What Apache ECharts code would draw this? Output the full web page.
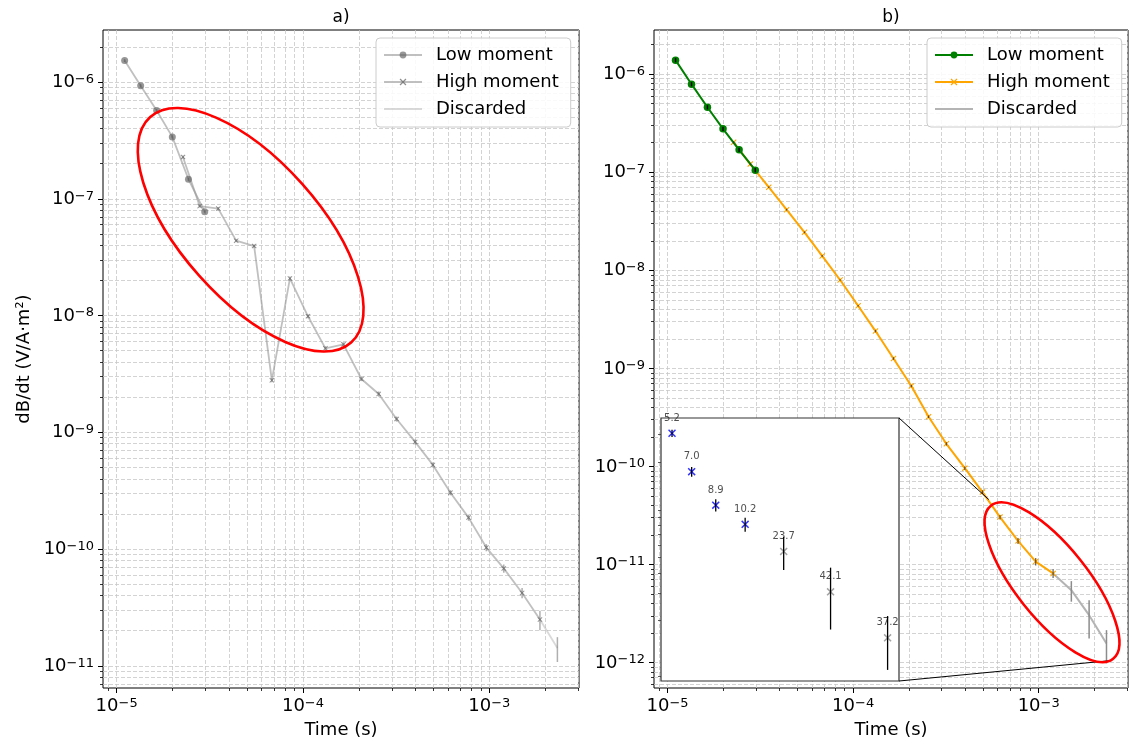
<!DOCTYPE html>
<html>
<head>
<meta charset="utf-8">
<title>dB/dt soundings a) and b)</title>
<script src="https://cdn.jsdelivr.net/npm/echarts@6/dist/echarts.min.js"></script>
<style>
  html, body { margin: 0; padding: 0; background: #fff; }
  #main { width: 1130px; height: 742px; }
</style>
</head>
<body>
<div id="main"></div>
<script>
// gate centre times (s), same gates in both soundings
var timesLow = [1.104e-5, 1.346e-5, 1.64e-5, 1.99e-5, 2.43e-5, 2.97e-5];
var timesHigh = [2.27e-5, 2.79e-5, 3.51e-5, 4.38e-5, 5.47e-5, 6.81e-5, 8.51e-5, 1.064e-4,
                 1.32e-4, 1.65e-4, 2.06e-4, 2.55e-4, 3.18e-4, 4.0e-4, 4.98e-4, 6.19e-4,
                 7.74e-4, 9.64e-4, 1.196e-3, 1.50e-3, 1.87e-3, 2.32e-3];

// a) sounding, dB/dt (V/A·m²)
var lowA = [1.53e-6, 9.3e-7, 5.7e-7, 3.39e-7, 1.47e-7, 7.74e-8];
var highA = [2.28e-7, 8.67e-8, 8.24e-8, 4.38e-8, 3.94e-8, 2.79e-9, 2.08e-8, 9.86e-9,
             5.24e-9, 5.67e-9, 2.86e-9, 2.13e-9, 1.30e-9, 8.28e-10, 5.26e-10, 3.04e-10,
             1.86e-10, 1.03e-10, 6.83e-11, 4.21e-11, 2.49e-11, 1.42e-11];
// relative std of each gate
var errLowA = [0.03, 0.03, 0.03, 0.03, 0.03, 0.03];
var errHighA = [0.03, 0.03, 0.03, 0.03, 0.03, 0.04, 0.04, 0.04, 0.04, 0.04, 0.04,
                0.05, 0.05, 0.05, 0.05, 0.05, 0.06, 0.07, 0.08, 0.10, 0.19, 0.24];

// b) sounding
var lowB = [1.39e-6, 7.9e-7, 4.6e-7, 2.77e-7, 1.69e-7, 1.05e-7];
var highB = [2.02e-7, 1.21e-7, 7.03e-8, 4.15e-8, 2.44e-8, 1.40e-8, 7.96e-9, 4.35e-9,
             2.40e-9, 1.26e-9, 6.61e-10, 3.21e-10, 1.70e-10, 9.6e-11, 5.47e-11, 3.04e-11,
             1.74e-11, 1.07e-11, 8.1e-12, 5.47e-12, 3.04e-12, 1.56e-12];
var errLowB = [0.05, 0.05, 0.05, 0.05, 0.05, 0.05];
var errHighB = [0.02, 0.02, 0.02, 0.02, 0.02, 0.02, 0.02, 0.02, 0.03, 0.03, 0.03,
                0.03, 0.04, 0.04, 0.045, 0.052, 0.070, 0.089, 0.102, 0.237, 0.421, 0.372];

var keptA = 21;     // high moment gates kept in a), the rest is discarded
var keptB = 19;     // same for b)
var insetFrom = 15; // first gate shown in the inset of b)

// axis ticks
var xMajor = [1e-5, 1e-4, 1e-3];
var yMajorA = [1e-11, 1e-10, 1e-9, 1e-8, 1e-7, 1e-6];
var yMajorB = [1e-12, 1e-11, 1e-10, 1e-9, 1e-8, 1e-7, 1e-6];

// axis limits
var xRange = [8.45e-6, 3.03e-3];
var yRangeA = [6.46e-12, 2.79e-6];
var yRangeB = [5.5e-13, 2.82e-6];
var insetX = [5.32e-4, 2.41e-3];
var insetY = [8.34e-13, 3.79e-11];
var zoomBox = [[5.38e-4, 4.6e-11], [2.48e-3, 1.05e-12]];

var FONT = 'DejaVu Sans';
var GRID_LINE = { show: true, lineStyle: { color: '#c8c8c8', width: 0.8, type: [4, 2] } };
var CROSS = 'path://M0,1.3L1.3,0L5,3.7L8.7,0L10,1.3L6.3,5L10,8.7L8.7,10L5,6.3L1.3,10L0,8.7L3.7,5Z';

function minorTicks(range) {
  var out = [];
  for (var k = -13; k <= -2; k++) {
    for (var m = 2; m <= 9; m++) {
      var v = m * Math.pow(10, k);
      if (v > range[0] && v < range[1]) out.push(v);
    }
  }
  return out;
}

function pairs(ts, vs) {
  return ts.map(function (t, i) { return [t, vs[i]]; });
}

function powLabel(v) {
  return '{b|10}{s|\u2212' + (-Math.round(Math.log10(v))) + '}';
}

var labelRich = {
  b: { fontSize: 18, lineHeight: 18, padding: [1, 0, 0, 0], color: '#000', fontFamily: FONT },
  s: { fontSize: 13, lineHeight: 13, verticalAlign: 'top', color: '#000', fontFamily: FONT }
};

function majorAxis(gi, pos, range, ticks, extra) {
  var ax = {
    type: 'log', gridIndex: gi, position: pos, min: range[0], max: range[1],
    axisLine: { show: false },
    axisTick: { show: true, length: 5, lineStyle: { color: '#000', width: 1 }, customValues: ticks },
    axisLabel: { show: true, margin: 9, formatter: powLabel, rich: labelRich, customValues: ticks },
    splitLine: GRID_LINE,
    minorTick: { show: false }, minorSplitLine: { show: false }
  };
  for (var k in extra) ax[k] = extra[k];
  return ax;
}

function minorAxis(gi, pos, range) {
  return {
    type: 'log', gridIndex: gi, position: pos, min: range[0], max: range[1],
    axisLine: { show: false },
    axisTick: { show: true, length: 3, lineStyle: { color: '#000', width: 0.8 }, customValues: minorTicks(range) },
    axisLabel: { show: false },
    splitLine: GRID_LINE
  };
}

var xName = { name: 'Time (s)', nameLocation: 'middle', nameGap: 33,
  nameTextStyle: { fontSize: 18, color: '#000', fontFamily: FONT } };

function lineSeries(name, xi, data, color, width, symbol, size, markColor, z) {
  return {
    name: name, type: 'line', xAxisIndex: xi, yAxisIndex: xi, data: data, z: z,
    symbol: symbol, symbolSize: size, showSymbol: symbol !== 'none',
    lineStyle: { color: color, width: width },
    itemStyle: { color: markColor },
    emphasis: { disabled: true }, animation: false
  };
}

function errorBars(xi, ts, vs, errs, color, width, z) {
  return {
    type: 'custom', xAxisIndex: xi, yAxisIndex: xi, z: z, silent: true,
    data: ts.map(function (t, i) { return [t, vs[i] * (1 - errs[i]), vs[i] * (1 + errs[i])]; }),
    encode: { x: 0, y: [1, 2] },
    renderItem: function (params, api) {
      var lo = api.coord([api.value(0), api.value(1)]);
      var hi = api.coord([api.value(0), api.value(2)]);
      return { type: 'line', shape: { x1: lo[0], y1: lo[1], x2: hi[0], y2: hi[1] },
               style: { stroke: color, lineWidth: width } };
    }
  };
}

function legendFor(left, names) {
  return {
    orient: 'vertical', left: left, top: 38, selectedMode: false,
    data: [names[0], names[1], { name: names[2], itemStyle: { opacity: 0 } }],
    itemWidth: 38, itemHeight: 8.5, itemGap: 9,
    padding: [8, 12, 9, 7],
    backgroundColor: 'rgba(255,255,255,0.85)', borderColor: '#cccccc', borderWidth: 1, borderRadius: 4,
    formatter: function (n) { return n.replace(/ \(.\)$/, ''); },
    textStyle: { fontSize: 18, lineHeight: 18, color: '#000', fontFamily: FONT, padding: [0, 0, 0, 9] }
  };
}

var insetKeepT = timesHigh.slice(insetFrom, keptB), insetKeepV = highB.slice(insetFrom, keptB);
var insetDropT = timesHigh.slice(keptB), insetDropV = highB.slice(keptB);

var chart = echarts.init(document.getElementById('main'), null, { renderer: 'canvas' });

var option = {
  animation: false,
  backgroundColor: '#ffffff',
  textStyle: { fontFamily: FONT },
  title: [
    { text: 'a)', left: 336, top: 4, textAlign: 'center', textStyle: { fontSize: 17, fontWeight: 'normal', color: '#000', fontFamily: FONT } },
    { text: 'b)', left: 886, top: 4, textAlign: 'center', textStyle: { fontSize: 17, fontWeight: 'normal', color: '#000', fontFamily: FONT } }
  ],
  grid: [
    { left: 103, top: 30, width: 476, height: 658, show: true, borderColor: '#000', borderWidth: 1, outerBoundsMode: 'none' },
    { left: 654, top: 30, width: 474, height: 658, show: true, borderColor: '#000', borderWidth: 1, outerBoundsMode: 'none' },
    { left: 661, top: 418, width: 238, height: 263, show: true, z: 10, backgroundColor: '#fff',
      borderColor: '#333', borderWidth: 1.2, outerBoundsMode: 'none' }
  ],
  xAxis: [
    majorAxis(0, 'bottom', xRange, xMajor, xName),
    minorAxis(0, 'bottom', xRange),
    majorAxis(1, 'bottom', xRange, xMajor, xName),
    minorAxis(1, 'bottom', xRange),
    { type: 'value', gridIndex: 2, min: insetX[0], max: insetX[1], z: 11,
      axisLine: { show: false }, axisTick: { show: false }, axisLabel: { show: false }, splitLine: { show: false } }
  ],
  yAxis: [
    majorAxis(0, 'left', yRangeA, yMajorA, { name: 'dB/dt (V/A\u00b7m\u00b2)', nameLocation: 'middle', nameGap: 70,
      nameTextStyle: { fontSize: 18, color: '#000', fontFamily: FONT } }),
    minorAxis(0, 'left', yRangeA),
    majorAxis(1, 'left', yRangeB, yMajorB, {}),
    minorAxis(1, 'left', yRangeB),
    { type: 'log', gridIndex: 2, position: 'left', min: insetY[0], max: insetY[1], z: 11,
      axisLine: { show: false },
      axisTick: { show: true, length: 3, lineStyle: { color: '#333', width: 0.8 }, customValues: [1e-11].concat(minorTicks(insetY)) },
      axisLabel: { show: false }, splitLine: { show: false } }
  ],
  legend: [
    legendFor(376, ['Low moment (a)', 'High moment (a)', 'Discarded (a)']),
    legendFor(927, ['Low moment (b)', 'High moment (b)', 'Discarded (b)'])
  ],
  series: [
    // a) everything greyed out
    lineSeries('Low moment (a)', 0, pairs(timesLow, lowA), 'rgba(150,150,150,0.6)', 1.8, 'circle', 7, 'rgba(95,95,95,0.65)', 3),
    lineSeries('High moment (a)', 0, pairs(timesHigh.slice(0, keptA), highA.slice(0, keptA)), 'rgba(150,150,150,0.6)', 1.8, CROSS, 5, 'rgba(95,95,95,0.7)', 3),
    lineSeries('Discarded (a)', 0, pairs(timesHigh.slice(keptA - 1), highA.slice(keptA - 1)), 'rgba(170,170,170,0.45)', 1.8, 'none', 0, 'rgba(170,170,170,0.45)', 2),
    errorBars(0, timesLow, lowA, errLowA, 'rgba(90,90,90,0.55)', 1.5, 4),
    errorBars(0, timesHigh, highA, errHighA, 'rgba(110,110,110,0.55)', 1.5, 4),

    // b)
    lineSeries('Low moment (b)', 2, pairs(timesLow, lowB), '#008000', 2, 'circle', 7.5, '#008000', 4),
    lineSeries('High moment (b)', 2, pairs(timesHigh.slice(0, keptB), highB.slice(0, keptB)), '#ffa500', 2, CROSS, 6, '#ffa500', 3),
    lineSeries('Discarded (b)', 2, pairs(timesHigh.slice(keptB - 1), highB.slice(keptB - 1)), '#b4b4b4', 2, 'none', 0, '#b4b4b4', 2),
    errorBars(2, timesLow, lowB, errLowB, '#000', 1.4, 5),
    errorBars(2, timesHigh.slice(0, keptB), highB.slice(0, keptB), errHighB.slice(0, keptB), 'rgba(40,40,40,0.75)', 1.2, 5),
    errorBars(2, timesHigh.slice(keptB), highB.slice(keptB), errHighB.slice(keptB), '#8c8c8c', 1.5, 5),

    // inset of b)
    { type: 'scatter', xAxisIndex: 4, yAxisIndex: 4, z: 12, symbol: CROSS, symbolSize: 8,
      data: pairs(insetKeepT, insetKeepV), itemStyle: { color: '#0000ff' },
      label: { show: true, position: 'top', distance: 6, fontSize: 10, color: '#222', fontFamily: FONT,
        formatter: function (p) { return (errHighB[insetFrom + p.dataIndex] * 100).toFixed(1); } } },
    { type: 'scatter', xAxisIndex: 4, yAxisIndex: 4, z: 12, symbol: CROSS, symbolSize: 8,
      data: pairs(insetDropT, insetDropV), itemStyle: { color: '#8c8c8c' },
      label: { show: true, position: 'top', distance: 6, fontSize: 10, color: '#222', fontFamily: FONT,
        formatter: function (p) { return (errHighB[keptB + p.dataIndex] * 100).toFixed(1); } } },
    errorBars(4, insetKeepT, insetKeepV, errHighB.slice(insetFrom, keptB), '#000', 1.3, 13),
    errorBars(4, insetDropT, insetDropV, errHighB.slice(keptB), '#000', 1.3, 13)
  ]
};

chart.setOption(option);

// red ellipses around the noisy part of each sounding, anchored in data space
var ellipses = [
  { xi: 0, center: [5.24e-5, 5.43e-8], rx: 151, ry: 69, angle: 48.3 },
  { xi: 2, center: [1.18e-3, 6.59e-12], rx: 98, ry: 36, angle: 51.4 }
];
var graphics = ellipses.map(function (e) {
  var c = chart.convertToPixel({ xAxisIndex: e.xi, yAxisIndex: e.xi }, e.center);
  return { type: 'ellipse', x: c[0], y: c[1], rotation: -e.angle * Math.PI / 180, z: 30, silent: true,
           shape: { cx: 0, cy: 0, rx: e.rx, ry: e.ry },
           style: { fill: 'none', stroke: '#ff0000', lineWidth: 2.6 } };
});

// connectors from the inset frame to the zoomed region
var insetTopRight = chart.convertToPixel({ xAxisIndex: 4, yAxisIndex: 4 }, [insetX[1], insetY[1]]);
var insetBottomRight = chart.convertToPixel({ xAxisIndex: 4, yAxisIndex: 4 }, [insetX[1], insetY[0]]);
var boxA = chart.convertToPixel({ xAxisIndex: 2, yAxisIndex: 2 }, zoomBox[0]);
var boxB = chart.convertToPixel({ xAxisIndex: 2, yAxisIndex: 2 }, zoomBox[1]);
[[insetTopRight, boxA], [insetBottomRight, boxB]].forEach(function (l) {
  graphics.push({ type: 'line', z: 25, silent: true,
    shape: { x1: l[0][0], y1: l[0][1], x2: l[1][0], y2: l[1][1] },
    style: { stroke: '#000', lineWidth: 1 } });
});

chart.setOption({ graphic: graphics });
</script>
</body>
</html>
